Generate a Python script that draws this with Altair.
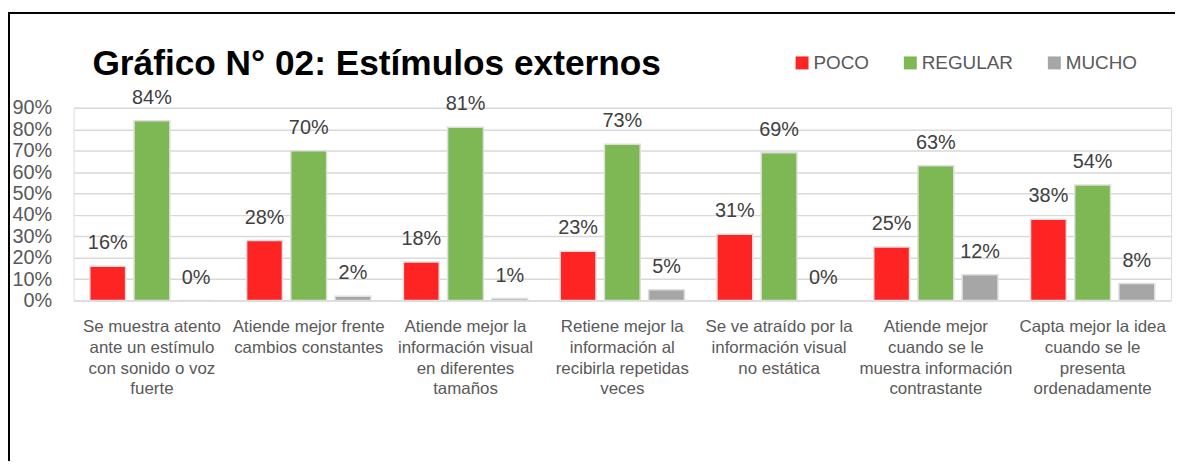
import altair as alt
import pandas as pd

categories = [
    "Se muestra atento|ante un estímulo|con sonido o voz|fuerte",
    "Atiende mejor frente|cambios constantes",
    "Atiende mejor la|información visual|en diferentes|tamaños",
    "Retiene mejor la|información al|recibirla repetidas|veces",
    "Se ve atraído por la|información visual|no estática",
    "Atiende mejor|cuando se le|muestra información|contrastante",
    "Capta mejor la idea|cuando se le|presenta|ordenadamente",
]
series = ["POCO", "REGULAR", "MUCHO"]
poco = [16, 28, 18, 23, 31, 25, 38]
regular = [84, 70, 81, 73, 69, 63, 54]
mucho = [0, 2, 1, 5, 0, 12, 8]
colors = ["#ff2424", "#7db854", "#a6a6a6"]
y_ticks = [0, 10, 20, 30, 40, 50, 60, 70, 80, 90]

rows = []
for s, vals in zip(series, [poco, regular, mucho]):
    for c, v in zip(categories, vals):
        rows.append({"cat": c, "serie": s, "value": v, "label": f"{v}%"})
df = pd.DataFrame(rows)

FONT = "Liberation Sans"

x_enc = alt.X(
    "cat:N",
    sort=categories,
    scale=alt.Scale(paddingInner=0, paddingOuter=0),
    axis=alt.Axis(
        title=None,
        domain=False,
        ticks=False,
        labelAngle=0,
        labelExpr="split(datum.label, '|')",
        labelFont=FONT,
        labelFontSize=17,
        labelColor="#595959",
        labelLineHeight=21,
        labelPadding=18,
        labelBaseline="top",
    ),
)
xoff = alt.XOffset(
    "serie:N", sort=series, scale=alt.Scale(paddingInner=0.19, paddingOuter=0.368)
)
y_enc = alt.Y(
    "value:Q",
    scale=alt.Scale(domain=[0, 90], nice=False),
    axis=alt.Axis(
        title=None,
        values=y_ticks,
        labelExpr="datum.value + '%'",
        labelOverlap=False,
        domain=False,
        ticks=False,
        grid=True,
        gridColor="#d9d9d9",
        gridWidth=1.5,
        labelFont=FONT,
        labelFontSize=20,
        labelColor="#595959",
        labelPadding=22,
    ),
)
color_enc = alt.Color(
    "serie:N",
    sort=series,
    scale=alt.Scale(domain=series, range=colors),
    legend=alt.Legend(
        title=None,
        orient="none",
        direction="horizontal",
        legendX=724,
        legendY=-55,
        symbolType="square",
        symbolSize=170,
        symbolStrokeWidth=0,
        labelFont=FONT,
        labelFontSize=19,
        labelColor="#595959",
        labelOffset=2,
        columnPadding=32,
    ),
)

base = alt.Chart(df)
bars = base.mark_bar(stroke="#dedede", strokeWidth=1.5).encode(
    x=x_enc, xOffset=xoff, y=y_enc, color=color_enc
)
texts = base.mark_text(
    baseline="alphabetic", dy=-17, font=FONT, fontSize=20, color="#404040"
).encode(x=x_enc, xOffset=xoff, y=y_enc, text="label:N")

title = alt.Chart(pd.DataFrame({"t": ["Gráfico N° 02: Estímulos externos"]})).mark_text(
    align="left", baseline="alphabetic", font=FONT, fontSize=35.5, fontWeight="bold", color="black"
).encode(x=alt.value(19), y=alt.value(-33), text="t:N")

frame_left = alt.Chart(pd.DataFrame({"a": [0]})).mark_rule(color="black", strokeWidth=2).encode(
    x=alt.value(-65), y=alt.value(-95.5), y2=alt.value(400)
)
frame_top = alt.Chart(pd.DataFrame({"a": [0]})).mark_rule(color="black", strokeWidth=2).encode(
    x=alt.value(-66), x2=alt.value(1200), y=alt.value(-95.5)
)

chart = (
    alt.layer(bars, texts, title, frame_left, frame_top)
    .properties(
        width=1105,
        height=194,
        autosize=alt.AutoSizeParams(type="none"),
        padding={"left": 66, "top": 99, "right": 4, "bottom": 160},
    )
    .configure_view(stroke=None)
    .configure_axisY(labelOverlap=False)
    .configure(background="white")
)

chart.save("out.html", embed_options={"renderer": "svg", "actions": False})
